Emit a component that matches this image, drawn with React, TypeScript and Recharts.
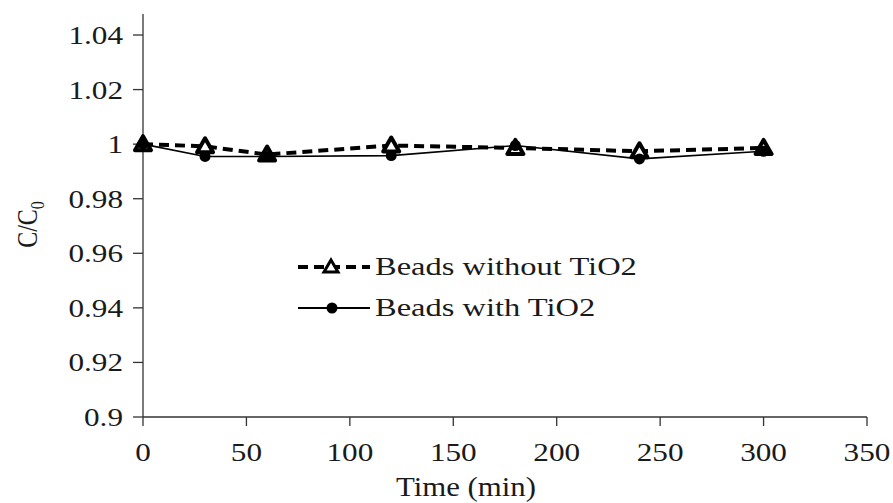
import React from 'react';
import { LineChart, Line, XAxis, YAxis, Legend } from 'recharts';

const times = [0, 30, 60, 120, 180, 240, 300];
const withoutTiO2 = [1.0, 0.9992, 0.9962, 0.9995, 0.9986, 0.9974, 0.9986];
const withTiO2 = [1.0, 0.9955, 0.9955, 0.9958, 0.9995, 0.9946, 0.9974];
const xTicks = [0, 50, 100, 150, 200, 250, 300, 350];
const yTicks = [0.9, 0.92, 0.94, 0.96, 0.98, 1, 1.02, 1.04];

const seriesOrder = ['without', 'with'];
const seriesNames = { without: 'Beads without TiO2', with: 'Beads with TiO2' };

const data = times.map((t, i) => ({ t, without: withoutTiO2[i], with: withTiO2[i] }));

const FONT = '"Liberation Serif", "Times New Roman", serif';
const INK = '#1a1a1a';

const XTick = (props: any) => {
  const { x, y, payload } = props;
  return (
    <g transform={`translate(${x},${y}) scale(1.2,1)`}>
      <text x={0} y={0} dy={33} textAnchor="middle" fontSize={26} fontFamily={FONT} fill={INK}>
        {payload.value}
      </text>
    </g>
  );
};

const YTick = (props: any) => {
  const { x, y, payload } = props;
  return (
    <g transform={`translate(${x},${y}) scale(1.2,1)`}>
      <text x={0} y={0} dy={9} textAnchor="end" fontSize={26} fontFamily={FONT} fill={INK}>
        {payload.value}
      </text>
    </g>
  );
};

const Triangle = (props: any) => {
  const { cx, cy } = props;
  if (cx == null || cy == null) return null;
  return (
    <path
      d={`M${cx},${cy - 8} L${cx + 8},${cy + 6} L${cx - 8},${cy + 6} Z`}
      fill="#fff"
      stroke="#000"
      strokeWidth={4}
      strokeLinejoin="round"
    />
  );
};

const Dot = (props: any) => {
  const { cx, cy } = props;
  if (cx == null || cy == null) return null;
  return <circle cx={cx} cy={cy} r={5.5} fill="#000" />;
};

const renderLegend = (props: any) => {
  const payload = [...props.payload].sort(
    (a: any, b: any) => seriesOrder.indexOf(a.dataKey) - seriesOrder.indexOf(b.dataKey)
  );
  return (
    <div style={{ fontFamily: FONT, color: INK }}>
      {payload.map((p: any) => {
        const dashed = p.dataKey === 'without';
        return (
          <div key={p.dataKey} style={{ display: 'flex', alignItems: 'center', height: 41 }}>
            <svg width={76} height={30} style={{ display: 'block' }}>
              <line
                x1={2}
                y1={15}
                x2={74}
                y2={15}
                stroke="#000"
                strokeWidth={dashed ? 4 : 1.8}
                strokeDasharray={dashed ? '10 6' : undefined}
              />
              {dashed ? (
                <path d="M35,8 L42,20 L28,20 Z" fill="#fff" stroke="#000" strokeWidth={3} />
              ) : (
                <circle cx={36} cy={15} r={5.5} fill="#000" />
              )}
            </svg>
            <span
              style={{
                display: 'inline-block',
                fontSize: 26,
                marginLeft: 3,
                transform: 'scaleX(1.25)',
                transformOrigin: 'left center',
                whiteSpace: 'nowrap',
              }}
            >
              {p.value}
            </span>
          </div>
        );
      })}
    </div>
  );
};

const YLabel = (props: any) => {
  const { viewBox } = props;
  const cy = viewBox.y + viewBox.height / 2 + 9;
  return (
    <text
      transform={`translate(37,${cy}) rotate(-90) scale(1,1.2)`}
      textAnchor="middle"
      fontSize={24}
      fontFamily={FONT}
      fill={INK}
    >
      C/C
      <tspan fontSize={16} dy={6}>
        0
      </tspan>
    </text>
  );
};

const XLabel = () => (
  <text
    transform="translate(466,496) scale(1.1,1)"
    textAnchor="middle"
    fontSize={28}
    fontFamily={FONT}
    fill={INK}
  >
    Time (min)
  </text>
);

export default function App() {
  return (
    <div style={{ position: 'absolute', left: 0, top: 0, background: '#fff' }}>
      <LineChart width={893} height={503} data={data} margin={{ top: 14, right: 26, left: 0, bottom: 46 }}>
        <XAxis
          dataKey="t"
          type="number"
          domain={[0, 350]}
          ticks={xTicks}
          interval={0}
          tick={<XTick />}
          tickSize={9}
          tickMargin={2}
          height={40}
          stroke="#333"
          strokeWidth={1.3}
          label={<XLabel />}
        />
        <YAxis
          type="number"
          domain={[0.9, 1.0477]}
          ticks={yTicks}
          interval={0}
          allowDataOverflow
          tick={<YTick />}
          tickSize={10}
          tickMargin={10}
          width={143}
          stroke="#333"
          strokeWidth={1.3}
          label={<YLabel />}
        />
        <Legend
          layout="vertical"
          align="center"
          verticalAlign="middle"
          content={renderLegend}
          wrapperStyle={{ left: 296, top: 246, width: 360 }}
        />
        <Line
          name={seriesNames.without}
          dataKey="without"
          stroke="#000"
          strokeWidth={4}
          strokeDasharray="10 6"
          dot={<Triangle />}
          activeDot={false}
          isAnimationActive={false}
        />
        <Line
          name={seriesNames.with}
          dataKey="with"
          stroke="#000"
          strokeWidth={1.6}
          dot={<Dot />}
          activeDot={false}
          isAnimationActive={false}
        />
      </LineChart>
    </div>
  );
}
